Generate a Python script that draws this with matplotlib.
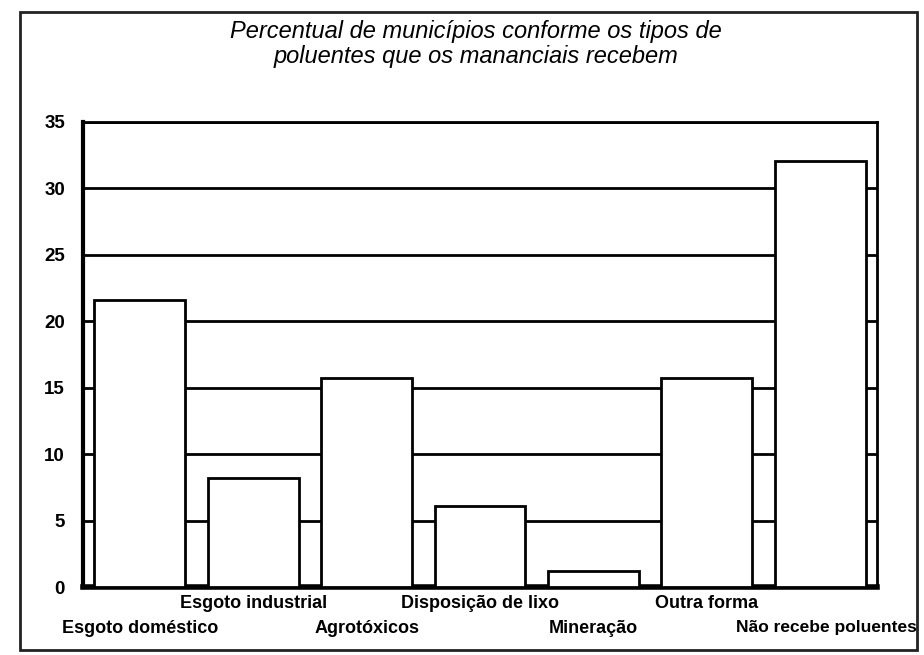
import matplotlib
matplotlib.use("Agg")
import matplotlib.pyplot as plt
from matplotlib.patches import Rectangle
from matplotlib.transforms import ScaledTranslation

categories = ["Esgoto doméstico", "Esgoto industrial", "Agrotóxicos",
              "Disposição de lixo", "Mineração", "Outra forma",
              "Não recebe poluentes"]
values = [21.6, 8.2, 15.7, 6.1, 1.2, 15.7, 32.1]
yticks = [0, 5, 10, 15, 20, 25, 30, 35]
title = "Percentual de municípios conforme os tipos de\npoluentes que os mananciais recebem"

W, H = 924, 655
fig = plt.figure(figsize=(W / 100, H / 100), dpi=100)
fig.patch.set_facecolor("white")

def fx(px):
    return px / W

def fy(py):
    return 1 - py / H

ax = fig.add_axes([fx(83), fy(587), fx(877 - 83), (587 - 122) / H])
x = list(range(len(categories)))
ax.bar(x, values, width=0.8, color="white", edgecolor="black", linewidth=2, zorder=3)

ax.set_xlim(-0.5, len(categories) - 0.5)
ax.set_ylim(0, 35)
ax.set_yticks(yticks)
ax.set_yticklabels([str(v) for v in yticks], fontfamily="Liberation Sans",
                   fontweight="bold", fontsize=13.5)
ax.tick_params(axis="y", length=0, pad=13)
ax.set_axisbelow(True)
ax.yaxis.grid(True, color="black", linewidth=2)

ax.set_xticks(x)
ax.set_xticklabels(categories, fontfamily="Liberation Sans", fontweight="bold", fontsize=13)
ax.tick_params(axis="x", length=0)
for i, t in enumerate(ax.xaxis.get_major_ticks()):
    t.set_pad(6 if i % 2 == 1 else 24)
last = ax.get_xticklabels()[-1]
last.set_fontsize(12.5)
last.set_transform(last.get_transform() + ScaledTranslation(6 / 100, 0, fig.dpi_scale_trans))

ax.spines["left"].set_linewidth(3)
ax.spines["bottom"].set_linewidth(4)
ax.spines["top"].set_linewidth(2)
ax.spines["right"].set_linewidth(2)

fig.text(fx(476), fy(44), title, ha="center", va="center", fontsize=17,
         fontstyle="italic", fontfamily="Liberation Sans", linespacing=1.15)

fig.patches.append(Rectangle((fx(20), fy(650)), fx(917 - 20), (650 - 12) / H,
                             transform=fig.transFigure, fill=False,
                             edgecolor="#222222", linewidth=2))

fig.savefig("out.png", dpi=100)
